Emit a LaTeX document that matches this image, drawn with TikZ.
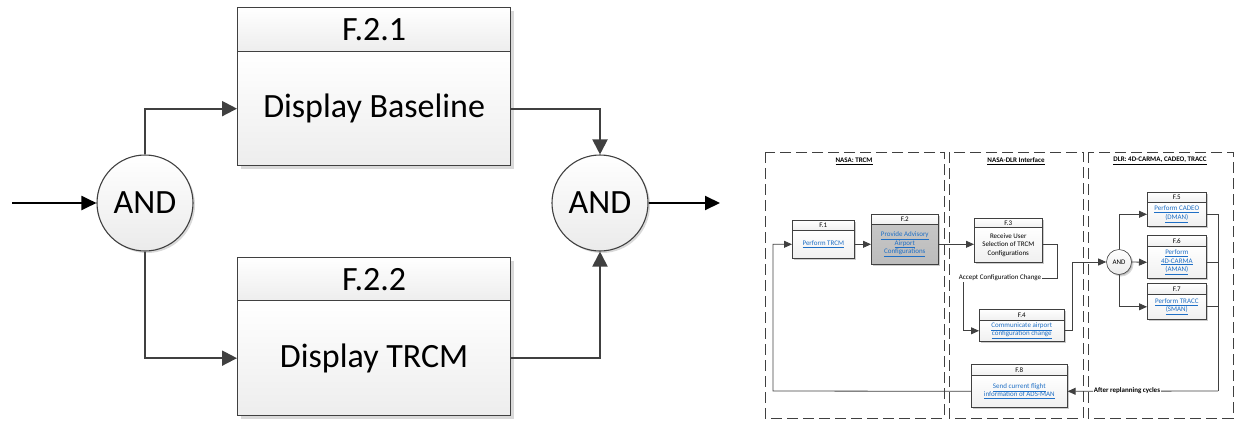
\documentclass[tikz,border=0pt]{standalone}
\usepackage{fontspec}
\setmainfont{Carlito}
\usetikzlibrary{arrows.meta,shadows}
\definecolor{dk}{HTML}{404040}
\definecolor{lnk}{HTML}{1F6FC5}
\definecolor{fgrayA}{HTML}{C6C6C6}
\definecolor{fgrayB}{HTML}{BCBCBC}
\begin{document}
\begin{tikzpicture}[x=1pt,y=-1pt,
  big/.style={font=\fontsize{34}{40}\selectfont},
  small/.style={font=\fontsize{7}{8.5}\selectfont},
  bbox/.style={draw=dk,line width=1.3pt,inner sep=0pt,anchor=north west,top color=white,bottom color=gray!14,
    drop shadow={shadow xshift=3pt,shadow yshift=-3pt,fill=black,opacity=0.15}},
  circ/.style={circle,draw=dk,line width=1.1pt,inner sep=0pt,top color=white,bottom color=gray!16,
    drop shadow={shadow xshift=2pt,shadow yshift=-2pt,fill=black,opacity=0.15}},
  sb/.style={draw=dk,line width=0.6pt,inner sep=0pt,anchor=north west,small,align=center,
    drop shadow={shadow xshift=1.2pt,shadow yshift=-1.2pt,fill=black,opacity=0.2}},
  sbs/.style={sb,top color=white,bottom color=gray!12},
  bigarr/.style={draw=dk,line width=2pt,-{Triangle[length=15pt,width=15pt]}},
  bigln/.style={draw=dk,line width=2pt},
  smarr/.style={draw=dk,line width=0.8pt,-{Triangle[length=8pt,width=7pt]}},
  smln/.style={draw=dk,line width=0.8pt},
  lane/.style={draw=dk,line width=0.9pt,dash pattern=on 11pt off 5pt},
  lbl/.style={small,fill=white,inner sep=0.6pt},
  lk/.style={text=lnk}
]
\useasboundingbox (0,0) rectangle (1235,421);

% ---------- left diagram ----------
\node[bbox,big,minimum width=273pt,minimum height=44pt] (F21h) at (237,7) {F.2.1};
\node[bbox,big,minimum width=273pt,minimum height=114pt] (F21) at (237,51) {Display Baseline};
\node[bbox,big,minimum width=273pt,minimum height=43pt] (F22h) at (237,257) {F.2.2};
\node[bbox,big,minimum width=273pt,minimum height=115pt] (F22) at (237,300) {Display TRCM};
\node[circ,big,minimum size=96pt] (A1) at (145,203) {AND};
\node[circ,big,minimum size=96pt] (A2) at (600,203) {AND};
\coordinate (in) at (12,203);
\coordinate (out) at (720,203);

\draw[bigarr,draw=black,-{Triangle[length=15pt,width=14pt]}] (in) -- (A1.west);
\draw[bigarr] (A1.north) |- (F21.west);
\draw[bigarr] (A1.south) |- (F22.west);
\draw[bigarr] (F21.east) -| (A2.north);
\draw[bigarr] (F22.east) -| (A2.south);
\draw[bigarr,draw=black,-{Triangle[length=15pt,width=14pt]}] (A2.east) -- (out);

% ---------- right diagram: lanes ----------
\draw[lane] (765,152) rectangle (944,418);
\draw[lane] (949,152) rectangle (1083,418);
\draw[lane] (1088,152) rectangle (1233,418);
\node[small,font=\fontsize{7}{8.5}\selectfont\bfseries] (T1) at (854,161) {\underline{NASA: TRCM}};
\node[small,font=\fontsize{7}{8.5}\selectfont\bfseries] (T2) at (1016,161) {\underline{NASA-DLR Interface}};
\node[small,font=\fontsize{7}{8.5}\selectfont\bfseries] (T3) at (1160,161) {\underline{DLR: 4D-CARMA, CADEO, TRACC}};

% ---------- right diagram: boxes ----------
\node[sbs,minimum width=62pt,minimum height=10pt] (F1h) at (792,220) {F.1};
\node[sbs,minimum width=62pt,minimum height=28pt,lk] (F1) at (792,230) {\underline{Perform TRCM}};
\node[sbs,minimum width=67pt,minimum height=10pt] (F2h) at (871,214) {F.2};
\node[sb,top color=fgrayA,bottom color=fgrayB,minimum width=67pt,minimum height=40pt,lk] (F2) at (871,224) {\underline{Provide Advisory}\\\underline{Airport}\\\underline{Configurations}};
\node[sbs,minimum width=68pt,minimum height=9pt] (F3h) at (974,218) {F.3};
\node[sbs,minimum width=68pt,minimum height=35pt] (F3) at (974,227) {Receive User\\Selection of TRCM\\Configurations};
\node[sbs,minimum width=85pt,minimum height=11pt] (F4h) at (979,309) {F.4};
\node[sbs,minimum width=85pt,minimum height=21pt,lk] (F4) at (979,320) {\underline{Communicate airport}\\\underline{configuration change}};
\node[sbs,minimum width=59pt,minimum height=10pt] (F5h) at (1147,192) {F.5};
\node[sbs,minimum width=59pt,minimum height=24pt,lk] (F5) at (1147,202) {\underline{Perform CADEO}\\\underline{(DMAN)}};
\node[sbs,minimum width=59pt,minimum height=11pt] (F6h) at (1147,235) {F.6};
\node[sbs,minimum width=59pt,minimum height=32pt,lk] (F6) at (1147,246) {\underline{Perform}\\\underline{4D-CARMA}\\\underline{(AMAN)}};
\node[sbs,minimum width=59pt,minimum height=11pt] (F7h) at (1147,283) {F.7};
\node[sbs,minimum width=59pt,minimum height=25pt,lk] (F7) at (1147,294) {\underline{Perform TRACC}\\\underline{(SMAN)}};
\node[sbs,minimum width=96pt,minimum height=11pt] (F8h) at (971,364) {F.8};
\node[sbs,minimum width=96pt,minimum height=32pt,lk] (F8) at (971,375) {\underline{Send current flight}\\\underline{information of ADS-MAN}};
\node[circ,line width=0.6pt,small,minimum size=25pt,drop shadow={shadow xshift=1pt,shadow yshift=-1pt,fill=black,opacity=0.15}] (A3) at (1119,262) {AND};

% ---------- right diagram: connectors ----------
\coordinate (c1) at (773,391);
\draw[smarr] (F8.west) -- (c1) |- (F1.west);
\draw[smarr] (F1.east) -- (F2.west);
\draw[smarr] (F2.east) -- (F3.west |- F2.east);
\coordinate (c2) at (1057,278);
\coordinate (c3) at (963,278);
\draw[smarr] (F3.east) -| (c2) -- (c3) |- (F4.west);
\node[lbl] (acc) at (1000,278) {Accept Configuration Change};
\coordinate (c4) at (1072,262);
\draw[smarr] (F4.east) -| (c4) -- (A3.west);
\draw[smarr] (A3.north) |- (F5.west);
\draw[smarr] (A3.east) -- (F6.west);
\draw[smarr] (A3.south) |- (F7.west);
\coordinate (c5) at (1218,391);
\draw[smln] (F5.east) -| (c5);
\draw[smln] (F6.east) -- (F6.east -| c5);
\draw[smln] (F7.east) -- (F7.east -| c5);
\draw[smarr] (c5) -- (F8.east);
\node[lbl,font=\fontsize{7}{8.5}\selectfont\bfseries] (arc) at (1127,391) {After replanning cycles};
\end{tikzpicture}
\end{document}
